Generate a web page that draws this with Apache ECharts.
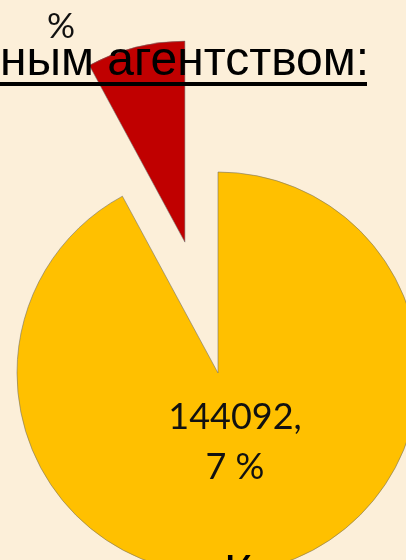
<!DOCTYPE html>
<html>
<head>
<meta charset="utf-8">
<script src="https://cdn.jsdelivr.net/npm/echarts@6/dist/echarts.min.js"></script>
<style>
  html, body { margin: 0; padding: 0; background: #fcefd9; }
  #chart { width: 406px; height: 560px; }
</style>
</head>
<body>
<div id="chart"></div>
<script>
// slice names and values (order = clockwise from 12 o'clock)
const names = ['Основная часть', 'Агентство'];
const values = [144092, 12340];
const colors = ['#ffc000', '#c00000'];
const yellowLabel = '7 %';

let chartDom = document.getElementById('chart');
let myChart = echarts.init(chartDom);

myChart.setOption({
    backgroundColor: '#fcefd9',
    animation: false,
    graphic: [
        {
            type: 'text',
            z: 100,
            left: 47,
            top: 9,
            style: { text: '%', font: '35px Lato', fill: '#111' },
        },
        {
            type: 'text',
            z: 100,
            left: 0,
            top: 38,
            style: { text: 'ным агентством:', font: '48px "Liberation Sans"', fill: '#000' },
        },
        {
            type: 'rect',
            z: 100,
            shape: { x: 0, y: 82, width: 367, height: 4 },
            style: { fill: '#000' },
        },
        {
            type: 'text',
            z: 100,
            left: 224,
            top: 551,
            style: { text: 'К', font: '48px "Liberation Sans"', fill: '#000' },
        },
    ],
    series: [
        {
            type: 'pie',
            center: [218, 373],
            radius: 201,
            startAngle: 90,
            clockwise: true,
            selectedMode: 'single',
            selectedOffset: 135,
            emphasis: { disabled: true },
            itemStyle: { borderColor: 'rgba(110,110,110,0.7)', borderWidth: 0.8 },
            labelLine: { show: false },
            data: [
                {
                    name: names[0],
                    value: values[0],
                    itemStyle: { color: colors[0] },
                    label: {
                        show: true,
                        position: 'inside',
                        formatter: (p) => p.value + ',\n' + yellowLabel,
                        fontFamily: 'Lato',
                        fontSize: 36,
                        lineHeight: 50,
                        color: '#111',
                        align: 'center',
                    },
                },
                {
                    name: names[1],
                    value: values[1],
                    selected: true,
                    itemStyle: { color: colors[1] },
                    label: { show: false },
                },
            ],
            labelLayout: (params) => {
                if (params.dataIndex === 0) {
                    return { x: 235, y: 442, align: 'center', verticalAlign: 'middle' };
                }
            },
        },
    ],
});
</script>
</body>
</html>
